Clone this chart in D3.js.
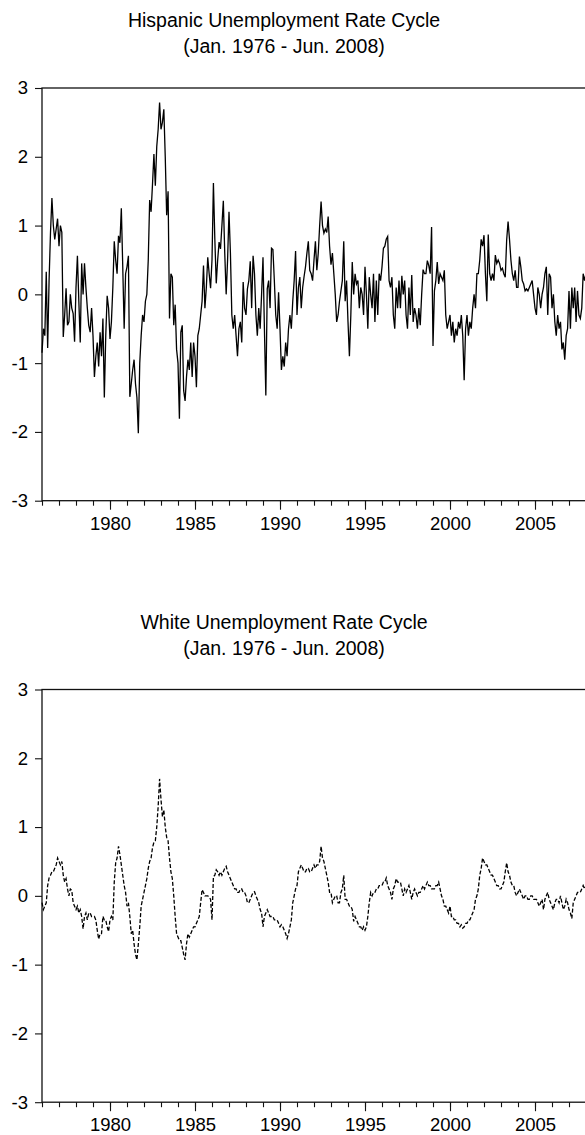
<!DOCTYPE html>
<html>
<head>
<meta charset="utf-8">
<script src="https://cdn.jsdelivr.net/npm/d3@7"></script>
<style>
body { margin: 0; background: #fff; }
svg { display: block; }
text { font-family: "Liberation Sans", Arial, sans-serif; fill: #000; }
</style>
</head>
<body>
<svg width="585" height="1135"></svg>
<script>
// monthly cycle values, Jan. 1976 - Jun. 2008 (one row per year)
var hispanic = [
  -0.85, -0.5, -0.6, 0.33, -0.78, 0.2, 0.9, 1.4, 1.0, 0.8, 0.95, 1.1,
  0.7, 1.0, 0.9, -0.62, -0.3, 0.09, -0.45, -0.4, 0.0, -0.2, -0.28, -0.69,
  0.1, 0.56, -0.1, -0.7, 0.45, 0.0, 0.45, 0.1, -0.2, -0.45, -0.55, -0.2,
  -0.6, -1.2, -0.9, -0.7, -1.05, -0.55, -0.9, -0.35, -1.5, -0.6, -0.02, -0.2,
  -0.65, -0.4, 0.1, 0.77, 0.5, 0.3, 0.85, 0.75, 1.25, 0.4, -0.5, 0.3,
  0.4, 0.56, -1.49, -1.3, -1.1, -0.95, -1.3, -1.5, -2.02, -1.0, -0.6, -0.3,
  -0.4, -0.1, 0.0, 0.5, 1.37, 1.2, 1.6, 2.04, 1.58, 2.15, 2.4, 2.79,
  2.4, 2.5, 2.69, 2.0, 1.15, 1.5, -0.35, 0.3, 0.25, -0.45, -0.15, -0.8,
  -1.0, -1.81, -0.55, -0.45, -1.4, -1.55, -1.2, -0.95, -1.1, -0.7, -1.2, -0.7,
  -0.9, -1.35, -0.6, -0.5, -0.3, -0.1, 0.42, -0.2, 0.1, 0.54, 0.3, 0.09,
  0.5, 1.62, 0.8, 0.16, 0.5, 0.76, 0.66, 1.0, 1.36, 0.6, 0.0, 0.5,
  1.2, 0.6, -0.3, -0.5, -0.3, -0.6, -0.9, -0.5, -0.4, -0.7, 0.18, -0.2,
  -0.3, 0.08, 0.2, 0.48, -0.2, 0.56, 0.3, -0.3, -0.6, -0.2, -0.5, 0.0,
  0.54, -0.5, -1.47, 0.08, 0.2, -0.2, 0.67, 0.65, 0.2, -0.3, -0.5, 0.03,
  -0.5, -1.1, -0.9, -1.05, -0.7, -0.9, -0.5, -0.3, -0.5, -0.1, 0.2, 0.63,
  -0.3, 0.1, 0.25, -0.2, 0.1, 0.26, 0.4, 0.6, 0.77, 0.35, 0.3, 0.2,
  0.5, 0.77, 0.35, 0.6, 1.0, 1.35, 1.0, 0.89, 0.95, 0.9, 1.13, 0.7,
  0.43, 0.6, 0.3, 0.0, -0.4, -0.3, -0.1, 0.05, 0.2, 0.77, -0.1, 0.2,
  -0.4, -0.9, -0.3, 0.47, 0.0, 0.3, 0.15, 0.2, -0.2, 0.1, 0.0, -0.3,
  0.4, 0.0, -0.5, 0.25, 0.0, -0.2, 0.3, -0.4, 0.2, -0.3, 0.3, 0.2,
  0.4, 0.67, 0.7, 0.8, 0.84, 0.2, 0.1, 0.25, -0.3, -0.5, 0.1, -0.2,
  0.2, -0.2, 0.27, 0.0, 0.2, -0.3, -0.5, 0.1, -0.3, 0.28, -0.4, -0.2,
  -0.3, -0.5, -0.2, -0.45, 0.0, 0.36, 0.3, 0.3, 0.49, 0.42, 0.3, 0.98,
  -0.75, 0.05, 0.2, 0.47, 0.15, 0.3, 0.25, 0.2, 0.35, -0.3, -0.5, -0.4,
  -0.3, -0.6, -0.4, -0.7, -0.5, -0.6, -0.4, -0.5, -0.3, -0.6, -1.25, -0.5,
  -0.3, -0.6, -0.4, -0.5, -0.2, 0.0, -0.2, 0.3, 0.3, 0.5, 0.8, 0.7,
  0.86, 0.3, -0.1, 0.87, 0.3, 0.2, 0.3, 0.2, 0.57, 0.45, 0.5, 0.45,
  0.35, 0.38, 0.3, 0.25, 0.79, 1.06, 0.8, 0.5, 0.3, 0.2, 0.35, 0.1,
  0.1, 0.55, 0.4, 0.2, 0.15, 0.05, 0.08, 0.05, 0.1, 0.15, 0.2, 0.0,
  -0.2, -0.3, 0.1, 0.0, -0.2, 0.0, 0.1, 0.3, 0.4, -0.3, 0.3, 0.25,
  -0.2, 0.0, -0.4, -0.6, -0.3, -0.5, -0.4, -0.8, -0.7, -0.95, -0.6, -0.5,
  0.05, -0.5, 0.1, -0.2, 0.1, -0.4, 0.05, -0.3, -0.35, -0.2, 0.3, 0.2,
  0.3, 0.5, 0.4, 0.6, 0.7, 0.8
];

var white = [
  -0.1, -0.2, -0.15, -0.1, 0.15, 0.26, 0.3, 0.35, 0.35, 0.4, 0.45, 0.55,
  0.5, 0.45, 0.5, 0.3, 0.2, 0.25, 0.1, 0.0, 0.1, 0.08, -0.1, -0.15,
  -0.2, -0.15, -0.25, -0.2, -0.3, -0.48, -0.3, -0.25, -0.35, -0.25, -0.25, -0.3,
  -0.3, -0.3, -0.35, -0.5, -0.63, -0.55, -0.55, -0.3, -0.35, -0.35, -0.45, -0.52,
  -0.35, -0.3, -0.35, 0.2, 0.48, 0.55, 0.72, 0.6, 0.45, 0.3, 0.15, 0.05,
  -0.15, -0.1, -0.3, -0.55, -0.5, -0.7, -0.85, -0.93, -0.7, -0.45, -0.15, -0.05,
  0.05, 0.15, 0.25, 0.4, 0.5, 0.55, 0.7, 0.78, 0.8, 1.0, 1.3, 1.7,
  1.4, 1.15, 1.25, 1.0, 0.85, 0.8, 0.55, 0.35, 0.25, 0.0, -0.3, -0.55,
  -0.6, -0.65, -0.65, -0.75, -0.85, -0.93, -0.7, -0.55, -0.6, -0.55, -0.5, -0.45,
  -0.45, -0.4, -0.35, -0.3, -0.1, 0.09, 0.05, 0.0, 0.0, 0.0, -0.02, -0.05,
  -0.35, 0.28, 0.3, 0.38, 0.35, 0.3, 0.35, 0.3, 0.35, 0.4, 0.43, 0.35,
  0.3, 0.25, 0.2, 0.15, 0.1, 0.1, 0.05, 0.05, 0.1, 0.1, 0.05, 0.05,
  0.0, -0.1, -0.1, -0.05, 0.0, 0.05, 0.06, 0.0, -0.05, -0.1, -0.2, -0.25,
  -0.45, -0.3, -0.25, -0.2, -0.25, -0.3, -0.3, -0.3, -0.35, -0.35, -0.35, -0.4,
  -0.45, -0.42, -0.45, -0.5, -0.55, -0.62, -0.55, -0.45, -0.35, -0.1, 0.0, 0.1,
  0.15, 0.35, 0.4, 0.45, 0.4, 0.35, 0.35, 0.4, 0.4, 0.35, 0.35, 0.4,
  0.45, 0.4, 0.45, 0.45, 0.5, 0.72, 0.55, 0.5, 0.4, 0.3, 0.2, 0.05,
  0.05, -0.1, -0.05, 0.0, 0.0, -0.1, -0.1, 0.05, 0.1, 0.3, -0.05, -0.05,
  -0.1, -0.15, -0.15, -0.2, -0.37, -0.3, -0.35, -0.4, -0.45, -0.45, -0.5, -0.45,
  -0.5, -0.45, -0.3, -0.1, 0.05, 0.0, 0.05, 0.05, 0.1, 0.1, 0.15, 0.15,
  0.15, 0.2, 0.2, 0.26, 0.15, 0.1, 0.05, -0.05, 0.1, 0.15, 0.25, 0.2,
  0.2, 0.2, 0.1, 0.0, 0.1, 0.05, 0.1, 0.15, 0.05, -0.05, 0.05, 0.1,
  0.05, 0.0, 0.05, 0.05, 0.1, 0.15, 0.1, 0.15, 0.2, 0.15, 0.15, 0.1,
  0.1, 0.1, 0.15, 0.15, 0.2, 0.1, 0.0, -0.05, -0.15, -0.15, -0.2, -0.25,
  -0.15, -0.3, -0.3, -0.35, -0.35, -0.4, -0.4, -0.45, -0.42, -0.47, -0.45, -0.4,
  -0.4, -0.35, -0.35, -0.3, -0.25, -0.2, -0.05, 0.0, 0.1, 0.3, 0.4, 0.55,
  0.5, 0.45, 0.45, 0.4, 0.35, 0.3, 0.3, 0.25, 0.2, 0.15, 0.15, 0.1,
  0.1, 0.15, 0.2, 0.35, 0.48, 0.35, 0.3, 0.2, 0.15, 0.15, 0.05, 0.0,
  0.05, 0.1, 0.05, 0.0, -0.05, 0.0, 0.0, -0.05, -0.05, 0.0, 0.0, -0.05,
  -0.05, -0.05, -0.1, -0.15, -0.1, -0.05, -0.2, -0.05, 0.0, 0.05, -0.05, -0.1,
  -0.15, -0.2, -0.1, -0.05, -0.05, -0.1, 0.0, -0.1, -0.2, -0.15, -0.05, -0.1,
  -0.2, -0.25, -0.33, -0.1, -0.05, 0.0, 0.05, 0.05, 0.05, 0.1, 0.15, 0.1,
  0.15, 0.2, 0.15, 0.2, 0.25, 0.3
];

var startYear = 1976;
var endYear = 2008.5;
var labelYears = [1980, 1985, 1990, 1995, 2000, 2005];
var yTicks = [-3, -2, -1, 0, 1, 2, 3];
var hispanicTitle = ["Hispanic Unemployment Rate Cycle", "(Jan. 1976 - Jun. 2008)"];
var whiteTitle = ["White Unemployment Rate Cycle", "(Jan. 1976 - Jun. 2008)"];

var svg = d3.select("svg");

drawPanel(svg.append("g"), 0, hispanicTitle, hispanic, null);
drawPanel(svg.append("g"), 601.5, whiteTitle, white, "4,2");


function getAxes(top) {
    return {
        x: d3.scaleLinear().domain([startYear, endYear]).range([42, 594.5]),
        y: d3.scaleLinear().domain([-3, 3]).range([top + 500.7, top + 88])
    };
}

function drawPanel(g, top, title, values, dash) {
    var axes = getAxes(top);
    addTitle(g, title, top);
    addFrame(g, axes);
    addTicks(g, axes);
    addSeries(g, axes, values, dash);
}

function addTitle(g, title, top) {
    g.selectAll("text.title").data(title).enter().append("text")
        .attr("class", "title")
        .attr("x", 284)
        .attr("y", function(d, i) { return top + 27.3 + i * 26; })
        .attr("text-anchor", "middle")
        .style("font-size", "19.5px")
        .text(function(d) { return d; });
}

function addFrame(g, axes) {
    g.append("rect")
        .attr("x", axes.x(startYear))
        .attr("y", axes.y(3))
        .attr("width", axes.x(endYear) - axes.x(startYear))
        .attr("height", axes.y(-3) - axes.y(3))
        .attr("fill", "none")
        .attr("stroke", "#111")
        .attr("stroke-width", 1.3);
}

function addTicks(g, axes) {
    var bottom = axes.y(-3);
    var left = axes.x(startYear);
    // plain hyphen for negatives, as in the original
    var fmt = function(d) { return String(d); };

    // short tick every year
    g.append("g")
        .attr("transform", "translate(0," + bottom + ")")
        .call(d3.axisBottom(axes.x).tickValues(d3.range(startYear, 2009)).tickSize(5).tickFormat(""))
        .call(function(a) { a.select(".domain").remove(); });

    // long tick + label every five years
    var major = g.append("g")
        .attr("transform", "translate(0," + bottom + ")")
        .call(d3.axisBottom(axes.x).tickValues(labelYears).tickSize(9).tickPadding(7).tickFormat(fmt));
    major.select(".domain").remove();

    var yAxis = g.append("g")
        .attr("transform", "translate(" + left + ",0)")
        .call(d3.axisLeft(axes.y).tickValues(yTicks).tickSize(7).tickPadding(7).tickFormat(fmt));
    yAxis.select(".domain").remove();

    g.selectAll(".tick line").attr("stroke", "#111").attr("stroke-width", 1.1);
    g.selectAll(".tick text")
        .attr("font-family", "Liberation Sans, Arial, sans-serif")
        .attr("font-size", 18.5)
        .attr("fill", "#000");
}

function addSeries(g, axes, values, dash) {
    var line = d3.line()
        .x(function(d, i) { return axes.x(startYear + i / 12); })
        .y(function(d) { return axes.y(d); });

    g.append("path")
        .datum(values)
        .attr("d", line)
        .attr("fill", "none")
        .attr("stroke", "#000")
        .attr("stroke-width", 1.3)
        .attr("stroke-linejoin", "miter")
        .attr("stroke-dasharray", dash);
}
</script>
</body>
</html>
